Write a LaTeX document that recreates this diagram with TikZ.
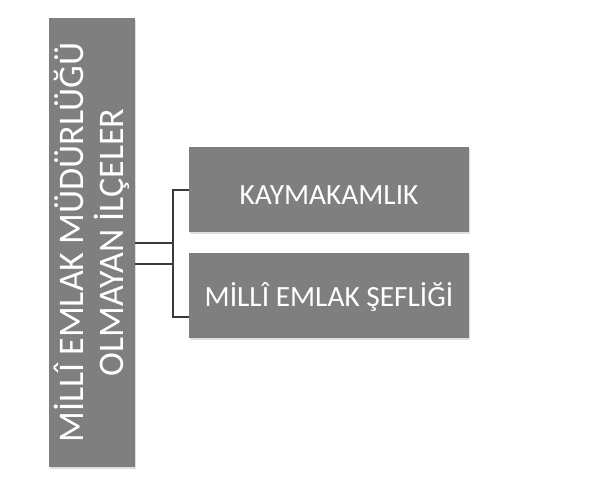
\documentclass[tikz,border=0pt]{standalone}
\usepackage{fontspec}
\setmainfont{Carlito}
\usetikzlibrary{shadows}
\definecolor{boxgray}{HTML}{7F7F7F}
\definecolor{linegray}{HTML}{3A3A3A}
\tikzset{
  graybox/.style={rectangle, fill=boxgray, draw=none, text=white, inner sep=0pt,
    drop shadow={opacity=0.25, shadow xshift=0.8pt, shadow yshift=-1.2pt}},
  rightbox/.style={graybox, minimum width=280*0.75pt, minimum height=85*0.75pt,
    font=\fontsize{22}{26}\selectfont, text depth=0pt},
  conn/.style={draw=linegray, line width=0.8pt}
}
\begin{document}
\begin{tikzpicture}[x=0.75pt, y=-0.75pt]
\useasboundingbox (0,0) rectangle (609,483);
\node[graybox, minimum width=86*0.75pt, minimum height=449*0.75pt] (left) at (92,242.5) {};
\node[rotate=90, text=white, align=center, font=\fontsize{27}{30}\selectfont] (lefttext) at (92,242.5) {MİLLÎ EMLAK MÜDÜRLÜĞÜ\\OLMAYAN İLÇELER};
\node[rightbox, text height=22.4pt] (k) at (329,189.5) {KAYMAKAMLIK};
\node[rightbox, text height=16pt] (m) at (329,295.5) {MİLLÎ EMLAK ŞEFLİĞİ};
\coordinate (a1) at (173,243);
\coordinate (a2) at (173,264);
\coordinate (t) at (173,190);
\coordinate (b) at (173,317);
\draw[conn] (left.east |- a1) -- (a1);
\draw[conn] (left.east |- a2) -- (a2);
\draw[conn] (k.west |- t) -- (t) -- (b) -- (m.west |- b);
\end{tikzpicture}
\end{document}
